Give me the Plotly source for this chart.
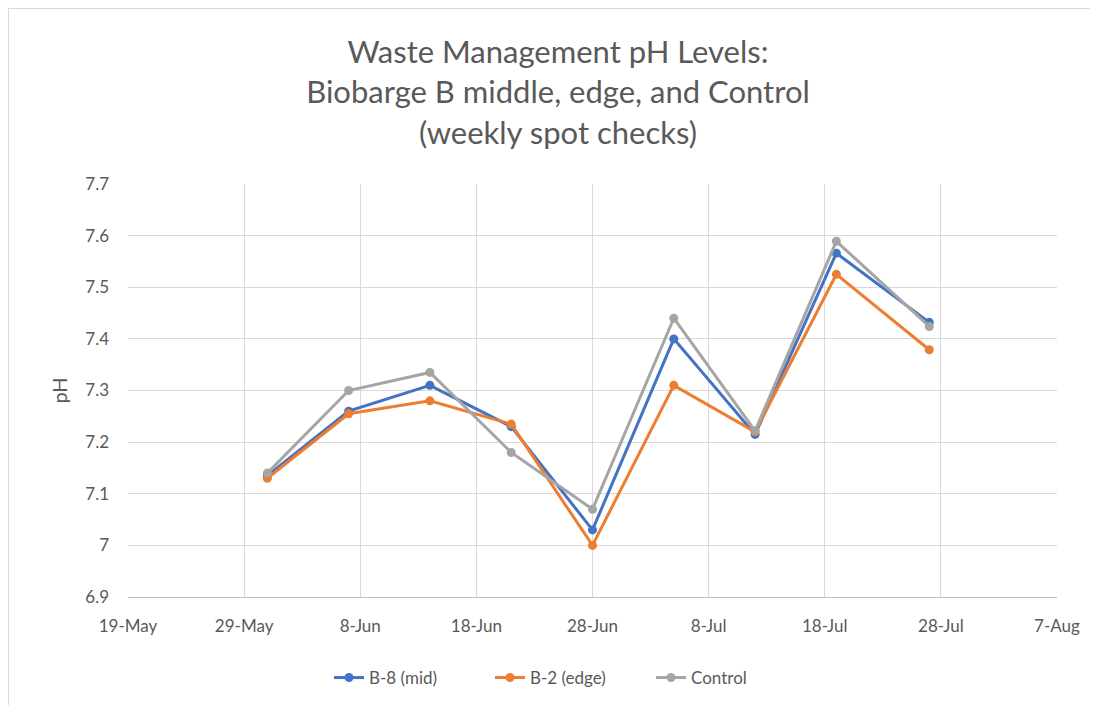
import plotly.graph_objects as go

dates = ["2021-05-31", "2021-06-07", "2021-06-14", "2021-06-21", "2021-06-28",
         "2021-07-05", "2021-07-12", "2021-07-19", "2021-07-27"]
b8_mid = [7.135, 7.26, 7.31, 7.23, 7.03, 7.40, 7.215, 7.566, 7.432]
b2_edge = [7.13, 7.255, 7.28, 7.235, 7.00, 7.31, 7.22, 7.525, 7.379]
control = [7.14, 7.30, 7.335, 7.18, 7.07, 7.44, 7.222, 7.589, 7.424]
ytick_vals = [6.9, 7.0, 7.1, 7.2, 7.3, 7.4, 7.5, 7.6, 7.7]
ytick_text = ["6.9", "7", "7.1", "7.2", "7.3", "7.4", "7.5", "7.6", "7.7"]

series = [
    ("B-8 (mid)", b8_mid, "#4472C4"),
    ("B-2 (edge)", b2_edge, "#ED7D31"),
    ("Control", control, "#A5A5A5"),
]

fig = go.Figure()
for name, vals, color in series:
    fig.add_trace(go.Scatter(
        x=dates, y=vals, name=name, mode="lines+markers",
        line=dict(color=color, width=3),
        marker=dict(color=color, size=9),
    ))

font_family = "Lato, Open Sans, sans-serif"
W, H = 1090, 697
L, R, T, B = 120, 41, 176, 108
pw, ph = W - L - R, H - T - B

fig.update_layout(
    width=W, height=H,
    paper_bgcolor="white", plot_bgcolor="white",
    margin=dict(l=L, r=R, t=T, b=B, autoexpand=False),
    title=dict(
        text="Waste Management pH Levels:<br>Biobarge B middle, edge, and Control<br>(weekly spot checks)",
        x=(558 - 8) / W, xanchor="center", y=1 - 55 / H, yanchor="top",
        font=dict(family=font_family, size=31, color="#595959"),
    ),
    font=dict(family=font_family, color="#595959"),
    legend=dict(orientation="h", x=(329 - 128) / pw, xanchor="left",
                y=-(660 - 597) / ph, yanchor="top",
                entrywidth=116, entrywidthmode="pixels",
                font=dict(size=17, color="#595959")),
    xaxis=dict(
        type="date", range=["2021-05-19", "2021-08-07"],
        tick0="2021-05-19", dtick=864000000, tickformat="%-d-%b",
        showgrid=True, gridcolor="#D9D9D9", gridwidth=1,
        showline=True, linecolor="#BFBFBF", zeroline=False,
        tickfont=dict(size=17, color="#595959"), ticks="",
        ticklabelstandoff=14,
    ),
    yaxis=dict(
        range=[6.9, 7.7],
        tickvals=ytick_vals, ticktext=ytick_text,
        showgrid=True, gridcolor="#D9D9D9", gridwidth=1, zeroline=False,
        tickfont=dict(size=17, color="#595959"), ticks="",
        ticklabelstandoff=18,
        title=dict(text="pH", font=dict(size=20, color="#595959"), standoff=12),
    ),
)
fig.add_shape(type="rect", xref="paper", yref="paper",
              x0=-(L - 0) / pw, x1=1 + (R - 3) / pw,
              y0=-(B + 10) / ph, y1=1 + T / ph,
              line=dict(color="#D9D9D9", width=2))
fig.write_html("out.html")
